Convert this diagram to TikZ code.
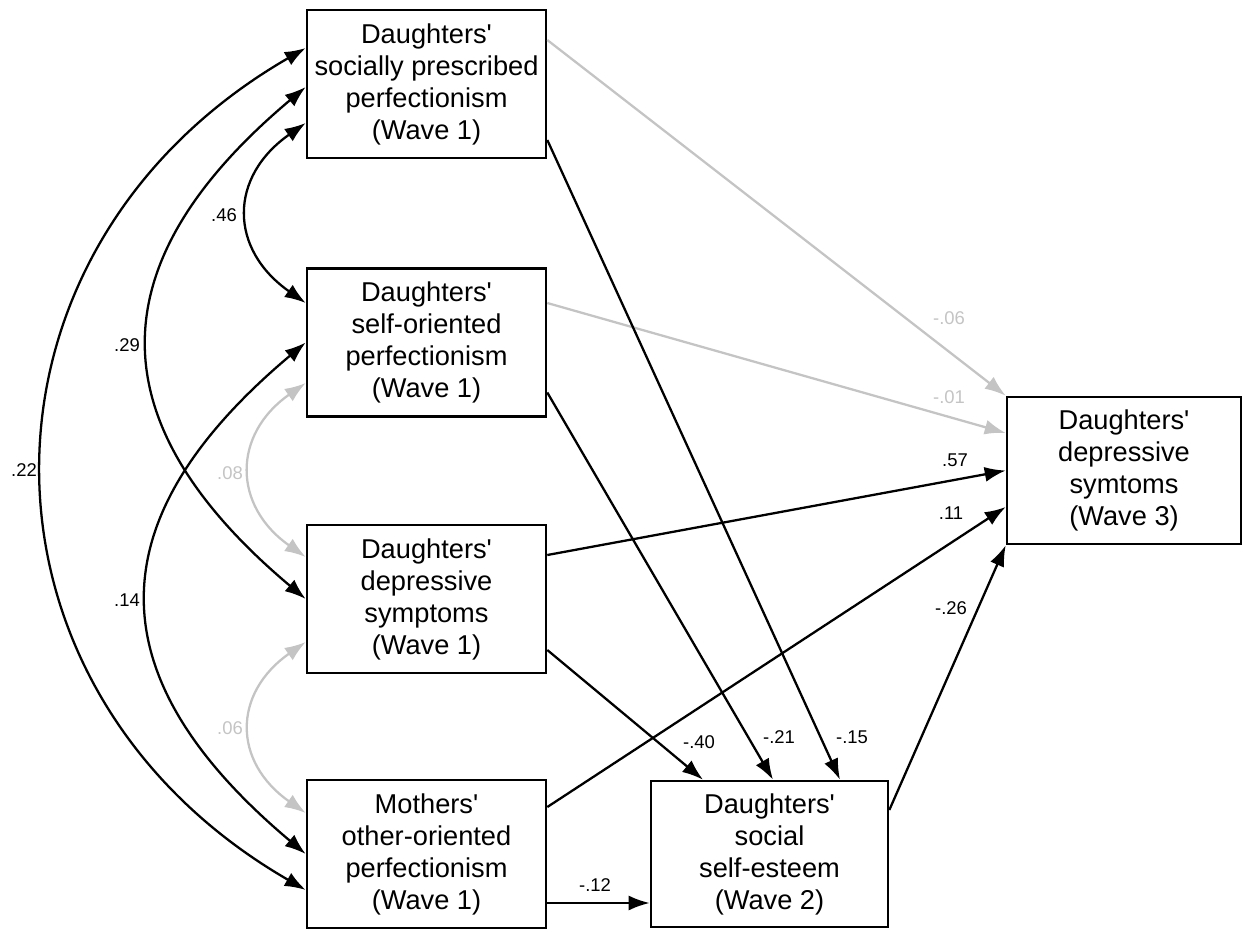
\documentclass[tikz,border=0pt]{standalone}
\usepackage{fontspec}
\setmainfont{Liberation Sans}[Ligatures=TeXOff]
\usetikzlibrary{arrows.meta}
\definecolor{weakpath}{RGB}{196,196,196}
\tikzset{
  var/.style={draw, rectangle, line width=1.5pt, align=center, inner sep=0pt,
    minimum width=4.78cm, minimum height=2.96cm, font=\fontsize{15.5}{18.2}\selectfont},
  arr/.style={line width=1.3pt, -{Latex[length=0.42cm,width=0.3cm]}},
  cov/.style={line width=1.3pt, {Latex[length=0.42cm,width=0.3cm]}-{Latex[length=0.42cm,width=0.3cm]}},
  weak/.style={draw=weakpath},
  coef/.style={inner sep=0pt, font=\fontsize{10.5}{12}\selectfont},
}
\begin{document}
\begin{tikzpicture}[x=0.02cm,y=-0.02cm]
\useasboundingbox (0,0) rectangle (1243,930);
% variables
\node[var] (SPP) at (426.5,84) {Daughters'\\socially prescribed\\perfectionism\\(Wave 1)};
\node[var] (SOP) at (426.5,342.5) {Daughters'\\self-oriented\\perfectionism\\(Wave 1)};
\node[var] (DEP1) at (426.5,599) {Daughters'\\depressive\\symptoms\\(Wave 1)};
\node[var] (MOP) at (426.5,854) {Mothers'\\other-oriented\\perfectionism\\(Wave 1)};
\node[var, minimum width=4.74cm, minimum height=2.92cm] (DSSE) at (769.5,854) {Daughters'\\social\\self-esteem\\(Wave 2)};
\node[var, minimum width=4.68cm, minimum height=2.94cm] (DEP3) at (1124,470.5) {Daughters'\\depressive\\symtoms\\(Wave 3)};
% correlations
\draw[cov] ([yshift=0.72cm]SPP.west) to[out=210,in=150,looseness=1.23] ([yshift=-0.72cm]MOP.west);
\draw[cov] ([yshift=-0.06cm]SPP.west) to[out=220,in=140,looseness=1.37] (DEP1.west);
\draw[cov] ([yshift=-0.78cm]SPP.west) to[out=215,in=145,looseness=1.34] ([yshift=0.79cm]SOP.west);
\draw[cov] (SOP.west) to[out=220,in=140,looseness=1.38] (MOP.west);
\draw[cov,weak] ([yshift=-0.81cm]SOP.west) to[out=215,in=145,looseness=1.32] ([yshift=0.84cm]DEP1.west);
\draw[cov,weak] ([yshift=-0.86cm]DEP1.west) to[out=215,in=145,looseness=1.34] ([yshift=0.82cm]MOP.west);
% paths
\draw[arr,weak] ([yshift=0.88cm]SPP.east) -- (DEP3.north west);
\draw[arr,weak] ([yshift=0.79cm]SOP.east) -- ([yshift=0.75cm]DEP3.west);
\draw[arr] ([yshift=0.88cm]DEP1.east) -- (DEP3.west);
\draw[arr] ([yshift=0.94cm]MOP.east) -- ([yshift=-0.73cm]DEP3.west);
\draw[arr] ([yshift=0.88cm]DSSE.east) -- (DEP3.south west);
\draw[arr] ([yshift=-1.02cm]DEP1.east) -- ([xshift=-1.33cm]DSSE.north);
\draw[arr] ([yshift=-1.0cm]SOP.east) -- ([xshift=0.07cm]DSSE.north);
\draw[arr] ([yshift=-1.12cm]SPP.east) -- ([xshift=1.41cm]DSSE.north);
\draw[arr] ([yshift=-0.98cm]MOP.east) -- ([yshift=-0.98cm]DSSE.west);
% coefficients
\node[coef] (c46) at (224,215) {.46};
\node[coef] (c29) at (127,345) {.29};
\node[coef] (c22) at (24,470) {.22};
\node[coef] (c14) at (127,600) {.14};
\node[coef, text=weakpath] (c08) at (230,473) {.08};
\node[coef, text=weakpath] (c06) at (230,728) {.06};
\node[coef, text=weakpath] (c06b) at (949,318) {-.06};
\node[coef, text=weakpath] (c01) at (949,397) {-.01};
\node[coef] (c57) at (955,460) {.57};
\node[coef] (c11) at (951,513) {.11};
\node[coef] (c26) at (951,608) {-.26};
\node[coef] (c40) at (699,742) {-.40};
\node[coef] (c21) at (779,737) {-.21};
\node[coef] (c15) at (852,737) {-.15};
\node[coef] (c12) at (595,885) {-.12};
\end{tikzpicture}
\end{document}
